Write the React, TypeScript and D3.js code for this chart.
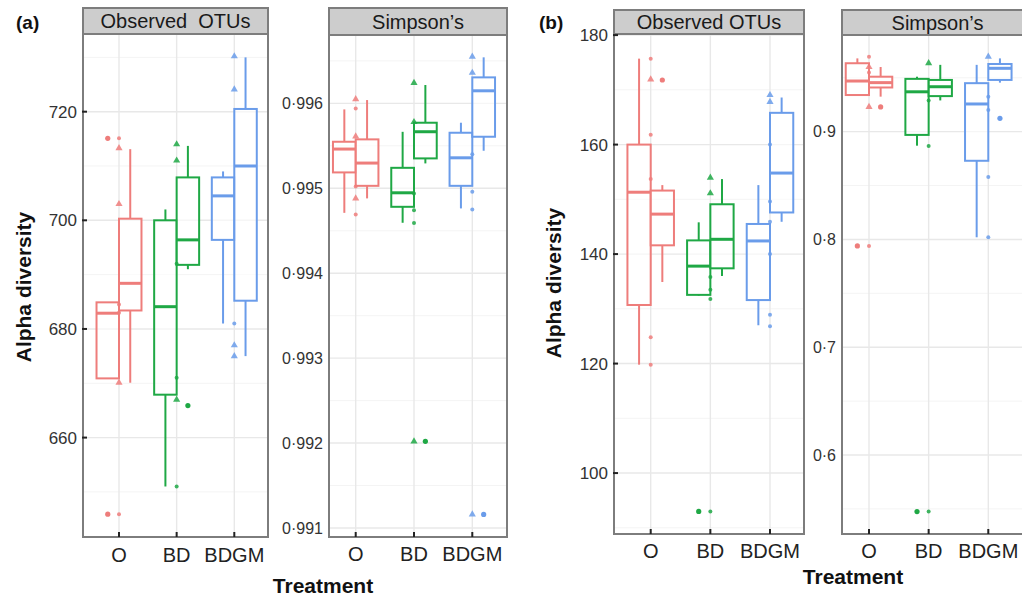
import React from "react";
import * as d3 from "d3";

const categories = ["O", "BD", "BDGM"];
const groupColors = ["#EE7D7B", "#1FA845", "#6A9CEA"];

// Box statistics: [category, side (0 = left, 1 = right), lower whisker, q1, median, q3, upper whisker]
const aOtuBoxes: [string, number, number, number, number, number, number][] = [
  ["O", 0, 670.9, 670.9, 682.9, 684.9, 684.9],
  ["O", 1, 670.1, 683.4, 688.4, 700.3, 713.1],
  ["BD", 0, 651.0, 667.9, 684.1, 700.0, 702.0],
  ["BD", 1, 691.0, 691.8, 696.4, 707.9, 713.7],
  ["BDGM", 0, 681.0, 696.4, 704.5, 707.9, 709.0],
  ["BDGM", 1, 675.0, 685.2, 710.0, 720.5, 730.0],
];
const aOtuOutliers: [string, number, number][] = [
  ["O", 0, 715.1],
  ["O", 0, 645.9],
  ["BD", 1, 665.9],
];
const aOtuPoints: [string, string, number][] = [
  ["O", "t", 713.3], ["O", "t", 703.0], ["O", "t", 670.1],
  ["O", "c", 715.1], ["O", "c", 645.9], ["O", "c", 684.5], ["O", "c", 683.0],
  ["BD", "t", 714.0], ["BD", "t", 711.0], ["BD", "t", 667.0],
  ["BD", "c", 651.0], ["BD", "c", 671.0], ["BD", "c", 692.0],
  ["BDGM", "t", 730.2], ["BDGM", "t", 724.1], ["BDGM", "t", 677.0], ["BDGM", "t", 675.0],
  ["BDGM", "c", 681.0],
];
const aOtuTicks = [660, 680, 700, 720];

const aSimBoxes: [string, number, number, number, number, number, number][] = [
  ["O", 0, 0.994711, 0.995187, 0.995462, 0.995548, 0.995929],
  ["O", 1, 0.994881, 0.995029, 0.995297, 0.995576, 0.996039],
  ["BD", 0, 0.994594, 0.994782, 0.994947, 0.995241, 0.995665],
  ["BD", 1, 0.995293, 0.995352, 0.995666, 0.995772, 0.996216],
  ["BDGM", 0, 0.994763, 0.995029, 0.995359, 0.995654, 0.995772],
  ["BDGM", 1, 0.995442, 0.995607, 0.996148, 0.996306, 0.996542],
];
const aSimOutliers: [string, number, number][] = [
  ["BD", 1, 0.99202],
  ["BDGM", 1, 0.99116],
];
const aSimPoints: [string, string, number][] = [
  ["O", "t", 0.99605], ["O", "t", 0.99561], ["O", "t", 0.99488],
  ["O", "c", 0.99594], ["O", "c", 0.99502], ["O", "c", 0.99469],
  ["BD", "t", 0.99624], ["BD", "t", 0.99578], ["BD", "t", 0.99202],
  ["BD", "c", 0.99474], ["BD", "c", 0.99459], ["BD", "c", 0.99494],
  ["BDGM", "t", 0.99655], ["BDGM", "t", 0.99636], ["BDGM", "t", 0.99116],
  ["BDGM", "c", 0.99496], ["BDGM", "c", 0.99475], ["BDGM", "c", 0.9954],
];
const aSimTicks = [0.991, 0.992, 0.993, 0.994, 0.995, 0.996];

const bOtuBoxes: [string, number, number, number, number, number, number][] = [
  ["O", 0, 119.8, 130.7, 151.3, 160.0, 175.7],
  ["O", 1, 134.9, 141.6, 147.3, 151.6, 152.6],
  ["BD", 0, 132.4, 132.55, 137.8, 142.5, 145.8],
  ["BD", 1, 136.0, 137.4, 142.7, 149.1, 153.7],
  ["BDGM", 0, 127.0, 131.6, 142.4, 145.5, 152.6],
  ["BDGM", 1, 145.9, 147.6, 154.8, 165.8, 168.6],
];
const bOtuOutliers: [string, number, number][] = [
  ["O", 1, 171.8],
  ["BD", 0, 93.0],
];
const bOtuPoints: [string, string, number][] = [
  ["O", "c", 175.7], ["O", "t", 171.9], ["O", "c", 161.8], ["O", "c", 153.7],
  ["O", "c", 124.8], ["O", "c", 119.8],
  ["BD", "t", 153.96], ["BD", "t", 151.1], ["BD", "c", 135.8], ["BD", "c", 133.5],
  ["BD", "c", 131.8], ["BD", "c", 93.0],
  ["BDGM", "t", 169.05], ["BDGM", "t", 167.8], ["BDGM", "c", 160.0], ["BDGM", "c", 149.6],
  ["BDGM", "c", 145.9], ["BDGM", "c", 140.0], ["BDGM", "c", 128.9], ["BDGM", "c", 126.8],
];
const bOtuTicks = [100, 120, 140, 160, 180];

const bSimBoxes: [string, number, number, number, number, number, number][] = [
  ["O", 0, 0.934, 0.934, 0.947, 0.9635, 0.968],
  ["O", 1, 0.9325, 0.941, 0.9455, 0.951, 0.96],
  ["BD", 0, 0.887, 0.897, 0.937, 0.949, 0.951],
  ["BD", 1, 0.929, 0.933, 0.9417, 0.948, 0.962],
  ["BDGM", 0, 0.802, 0.873, 0.9257, 0.945, 0.962],
  ["BDGM", 1, 0.9455, 0.948, 0.9588, 0.9628, 0.968],
];
const bSimOutliers: [string, number, number][] = [
  ["O", 0, 0.794],
  ["O", 1, 0.923],
  ["BD", 0, 0.5475],
  ["BDGM", 1, 0.9124],
];
const bSimPoints: [string, string, number][] = [
  ["O", "c", 0.9696], ["O", "c", 0.955], ["O", "t", 0.96], ["O", "t", 0.923], ["O", "c", 0.794],
  ["BD", "t", 0.9635], ["BD", "c", 0.929], ["BD", "c", 0.8867], ["BD", "c", 0.5475],
  ["BDGM", "t", 0.9696], ["BDGM", "c", 0.9325], ["BDGM", "c", 0.92], ["BDGM", "c", 0.858],
  ["BDGM", "c", 0.802],
];
const bSimTicks = [0.6, 0.7, 0.8, 0.9];

const stripTitles = ["Observed\u00A0 OTUs", "Simpson\u2019s", "Observed OTUs", "Simpson\u2019s"];

type PanelDef = {
  title: string;
  left: number; right: number; stripTop: number; top: number; bottom: number;
  xFirst: number; xLast: number;
  domain: [number, number];
  ticks: number[];
  fmt: (v: number) => string;
  boxes: [string, number, number, number, number, number, number][];
  outliers: [string, number, number][];
  points: [string, string, number][];
  tickMarks: boolean;
  tickFont: number;
  xLabelY: number;
};

const fmtInt = (v: number) => d3.format("d")(v);
const fmtDot = (digits: string) => (v: number) => d3.format(digits)(v).replace(".", "\u00B7");

const panels: PanelDef[] = [
  {
    title: stripTitles[0], left: 83, right: 268, stripTop: 8, top: 34, bottom: 537,
    xFirst: 119, xLast: 234.3, domain: [641.7, 734.3], ticks: aOtuTicks, fmt: fmtInt,
    boxes: aOtuBoxes, outliers: aOtuOutliers, points: aOtuPoints, tickMarks: true, tickFont: 17, xLabelY: 562,
  },
  {
    title: stripTitles[1], left: 329, right: 507, stripTop: 8, top: 35, bottom: 537,
    xFirst: 355.7, xLast: 472.3, domain: [0.990894, 0.996805], ticks: aSimTicks, fmt: fmtDot(".3f"),
    boxes: aSimBoxes, outliers: aSimOutliers, points: aSimPoints, tickMarks: false, tickFont: 16, xLabelY: 561,
  },
  {
    title: stripTitles[2], left: 614, right: 804, stripTop: 10, top: 34, bottom: 534,
    xFirst: 650.7, xLast: 770, domain: [88.87, 180.2], ticks: bOtuTicks, fmt: fmtInt,
    boxes: bOtuBoxes, outliers: bOtuOutliers, points: bOtuPoints, tickMarks: true, tickFont: 17, xLabelY: 558,
  },
  {
    title: stripTitles[3], left: 842, right: 1033, stripTop: 10, top: 35, bottom: 534,
    xFirst: 869, xLast: 988.3, domain: [0.5267, 0.9897], ticks: bSimTicks, fmt: fmtDot(".1f"),
    boxes: bSimBoxes, outliers: bSimOutliers, points: bSimPoints, tickMarks: false, tickFont: 16, xLabelY: 558,
  },
];

const FONT = "'Liberation Sans', Arial, sans-serif";
const FRAME = "#7d7d7d";

function Panel({ p }: { p: PanelDef }) {
  const x = d3.scalePoint<string>().domain(categories).range([p.xFirst, p.xLast]);
  const y = d3.scaleLinear().domain(p.domain).range([p.bottom, p.top]);
  const step = x.step();
  const bw = step * 0.39;
  const colorOf = (c: string) => groupColors[categories.indexOf(c)];
  const boxX = (c: string, side: number) => (x(c) as number) + (side === 0 ? -bw : 0);
  const minor: number[] = [];
  for (let i = 0; i < p.ticks.length; i++) {
    const d = p.ticks.length > 1 ? p.ticks[1] - p.ticks[0] : 1;
    minor.push(p.ticks[i] - d / 2);
    if (i === p.ticks.length - 1) minor.push(p.ticks[i] + d / 2);
  }
  const inRange = (v: number) => y(v) >= p.top && y(v) <= p.bottom;
  const tri = d3.symbol().type(d3.symbolTriangle).size(22);
  return (
    <g>
      <rect x={p.left} y={p.top} width={p.right - p.left} height={p.bottom - p.top} fill="#ffffff" />
      {minor.filter(inRange).map((v, i) => (
        <line key={"mn" + i} x1={p.left} x2={p.right} y1={y(v)} y2={y(v)} stroke="#f4f4f4" strokeWidth={1} />
      ))}
      {p.ticks.map((v, i) => (
        <line key={"mj" + i} x1={p.left} x2={p.right} y1={y(v)} y2={y(v)} stroke="#e8e8e8" strokeWidth={1.4} />
      ))}
      {categories.map((c) => (
        <line key={"vg" + c} x1={x(c)} x2={x(c)} y1={p.top} y2={p.bottom} stroke="#e8e8e8" strokeWidth={1.4} />
      ))}
      {p.boxes.map(([c, side, lo, q1, med, q3, hi], i) => {
        const bx = boxX(c, side);
        const cx = bx + bw / 2;
        const col = colorOf(c);
        return (
          <g key={"b" + i} stroke={col} fill="none">
            <line x1={cx} x2={cx} y1={y(hi)} y2={y(q3)} strokeWidth={2} />
            <line x1={cx} x2={cx} y1={y(q1)} y2={y(lo)} strokeWidth={2} />
            <rect x={bx} y={y(q3)} width={bw} height={Math.max(0.5, y(q1) - y(q3))} fill="#ffffff" fillOpacity={0.6} strokeWidth={2} />
            <line x1={bx} x2={bx + bw} y1={y(med)} y2={y(med)} strokeWidth={3} />
          </g>
        );
      })}
      {p.outliers.map(([c, side, v], i) => (
        <circle key={"o" + i} cx={boxX(c, side) + bw / 2} cy={y(v)} r={2.6} fill={colorOf(c)} />
      ))}
      {p.points.map(([c, shape, v], i) =>
        shape === "t" ? (
          <path key={"p" + i} d={tri() as string} transform={`translate(${x(c)},${y(v)})`} fill={colorOf(c)} opacity={0.85} />
        ) : (
          <circle key={"p" + i} cx={x(c)} cy={y(v)} r={2} fill={colorOf(c)} opacity={0.85} />
        )
      )}
      <rect x={p.left} y={p.top} width={p.right - p.left} height={p.bottom - p.top} fill="none" stroke={FRAME} strokeWidth={2} />
      <rect x={p.left} y={p.stripTop} width={p.right - p.left} height={p.top - p.stripTop} fill="#cdcdcd" stroke={FRAME} strokeWidth={2} />
      <text x={(p.left + p.right) / 2} y={(p.stripTop + p.top) / 2 + 7} textAnchor="middle" fontSize={20} fill="#1a1a1a" fontFamily={FONT}>
        {p.title}
      </text>
      {p.ticks.map((v, i) => (
        <g key={"yt" + i}>
          {p.tickMarks && <line x1={p.left - 1} x2={p.left + 4} y1={y(v)} y2={y(v)} stroke="#222" strokeWidth={2} />}
          <text x={p.left - 6} y={y(v)} dy="0.35em" textAnchor="end" fontSize={p.tickFont} fill="#333" fontFamily={FONT}>
            {p.fmt(v)}
          </text>
        </g>
      ))}
      {categories.map((c) => (
        <g key={"xt" + c}>
          <line x1={x(c)} x2={x(c)} y1={p.bottom - 5} y2={p.bottom} stroke="#222" strokeWidth={2} />
          <text x={x(c)} y={p.xLabelY} textAnchor="middle" fontSize={20} fill="#222" fontFamily={FONT}>
            {c}
          </text>
        </g>
      ))}
    </g>
  );
}

export default function App() {
  return (
    <svg width={1022} height={597} style={{ display: "block", position: "absolute", left: 0, top: 0 }}>
      <rect x={0} y={0} width={1022} height={597} fill="#ffffff" />
      {panels.map((p, i) => (
        <Panel key={i} p={p} />
      ))}
      <text x={16} y={29} fontSize={19} fontWeight="bold" fill="#111" fontFamily={FONT}>(a)</text>
      <text x={539} y={29} fontSize={19} fontWeight="bold" fill="#111" fontFamily={FONT}>(b)</text>
      <text transform="translate(31,287) rotate(-90)" textAnchor="middle" fontSize={21} fontWeight="bold" fill="#111" fontFamily={FONT}>
        Alpha diversity
      </text>
      <text transform="translate(561,283) rotate(-90)" textAnchor="middle" fontSize={21} fontWeight="bold" fill="#111" fontFamily={FONT}>
        Alpha diversity
      </text>
      <text x={323} y={593} textAnchor="middle" fontSize={21} fontWeight="bold" fill="#111" fontFamily={FONT}>Treatment</text>
      <text x={853} y={584} textAnchor="middle" fontSize={21} fontWeight="bold" fill="#111" fontFamily={FONT}>Treatment</text>
    </svg>
  );
}
